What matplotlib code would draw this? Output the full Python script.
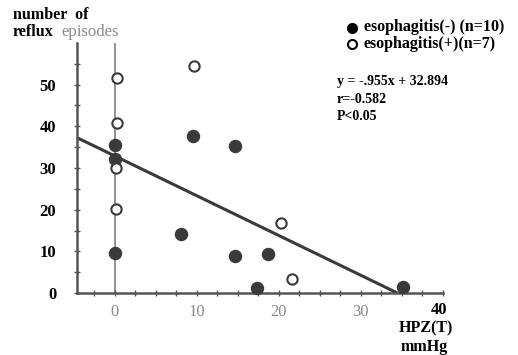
import numpy as np
import matplotlib

matplotlib.use("Agg")
import matplotlib.pyplot as plt
from matplotlib.lines import Line2D

# esophagitis(-), filled markers (n=10)
neg_hpz = [0.0, 0.0, 0.0, 9.5, 14.6, 8.1, 14.6, 17.3, 18.7, 35.1]
neg_reflux = [9.7, 35.6, 32.2, 37.6, 35.4, 14.2, 8.9, 1.2, 9.4, 1.4]

# esophagitis(+), open markers (n=7)
pos_hpz = [0.3, 0.3, 0.1, 9.7, 0.2, 20.2, 21.6]
pos_reflux = [51.5, 40.7, 30.0, 54.5, 20.2, 16.9, 3.4]

slope = -0.955
intercept = 32.894
x_ticks = [0, 10, 20, 30]
y_ticks = [0, 10, 20, 30, 40, 50]

SERIF = "Liberation Serif"
DARK = "#3a3a3a"
GREY = "#8a8a8a"

fig = plt.figure(figsize=(5.18, 3.55), dpi=100)
ax = fig.add_axes([0.1486, 0.1746, 0.7066, 0.7043])
xmin, xmax = -4.6, 40
ax.set_xlim(xmin, xmax)
ax.set_ylim(0, 60)

# regression line, stopped where it reaches zero
x_end = -intercept / slope
xs = np.array([xmin, min(x_end, xmax)])
ax.plot(xs, slope * xs + intercept, color=DARK, lw=2.2, solid_capstyle="butt",
        zorder=2, clip_on=False)

# vertical reference line at x=0
ax.axvline(0, ymin=0, ymax=1, color=GREY, lw=1.3, zorder=1)

ax.scatter(neg_hpz, neg_reflux, s=75, color=DARK, edgecolor=DARK, zorder=3,
           clip_on=False)
ax.scatter(pos_hpz, pos_reflux, s=55, facecolor="white", edgecolor=DARK,
           linewidth=1.5, zorder=3, clip_on=False)

for s in ("top", "right"):
    ax.spines[s].set_visible(False)
for s in ("left", "bottom"):
    ax.spines[s].set_color("#555555")
    ax.spines[s].set_linewidth(1.8)

ax.set_yticks(y_ticks)
ax.set_yticks(np.arange(5, 60, 10), minor=True)
ax.set_yticklabels([str(v) for v in y_ticks], fontfamily=SERIF,
                   fontweight="bold", fontsize=12)
ax.set_xticks(x_ticks)
ax.set_xticks(np.arange(-2.5, 40.1, 2.5), minor=True)
ax.set_xticklabels([str(v) for v in x_ticks], fontfamily=SERIF,
                   fontsize=12, color=GREY)
ax.tick_params(axis="both", which="both", direction="inout", length=4,
               width=1.0, color="#555555")
ax.tick_params(axis="y", pad=13)
ax.tick_params(axis="x", pad=6)

# axis titles
tkw = dict(family=SERIF, fontweight="bold", fontsize=11.5, transform=fig.transFigure)
fig.text(13 / 518, 1 - 15 / 355, "number  of", va="center", ha="left", **tkw)
fig.text(13 / 518, 1 - 32 / 355, "reflux", va="center", ha="left", **tkw)
fig.text(61 / 518, 1 - 32 / 355, "episodes", va="center", ha="left",
         family=SERIF, fontsize=12, color=GREY, transform=fig.transFigure)
fig.text(439 / 518, 1 - 310 / 355, "40", va="center", ha="center",
         family=SERIF, fontweight="bold", fontsize=12, transform=fig.transFigure)
fig.text(426 / 518, 1 - 328 / 355, "HPZ(T)", va="center", ha="center", **tkw)
fig.text(424 / 518, 1 - 347 / 355, "mmHg", va="center", ha="center", **tkw)

# legend markers and labels
fig.add_artist(Line2D([352 / 518], [1 - 28 / 355], marker="o", markersize=7,
                      color="black", transform=fig.transFigure))
fig.add_artist(Line2D([352 / 518], [1 - 44 / 355], marker="o", markersize=6.5,
                      markerfacecolor="white", markeredgecolor="black",
                      markeredgewidth=1.5, transform=fig.transFigure))
fig.text(364 / 518, 1 - 27 / 355, "esophagitis(-) (n=10)", va="center",
         ha="left", **tkw)
fig.text(364 / 518, 1 - 44 / 355, "esophagitis(+)(n=7)", va="center",
         ha="left", **tkw)

# regression stats
skw = dict(family=SERIF, fontweight="bold", fontsize=10, transform=fig.transFigure)
fig.text(337 / 518, 1 - 82 / 355, "y = -.955x + 32.894", va="center", ha="left", **skw)
fig.text(337 / 518, 1 - 99 / 355, "r=-0.582", va="center", ha="left", **skw)
fig.text(337 / 518, 1 - 117 / 355, "P<0.05", va="center", ha="left", **skw)

fig.savefig("out.png", dpi=100)
